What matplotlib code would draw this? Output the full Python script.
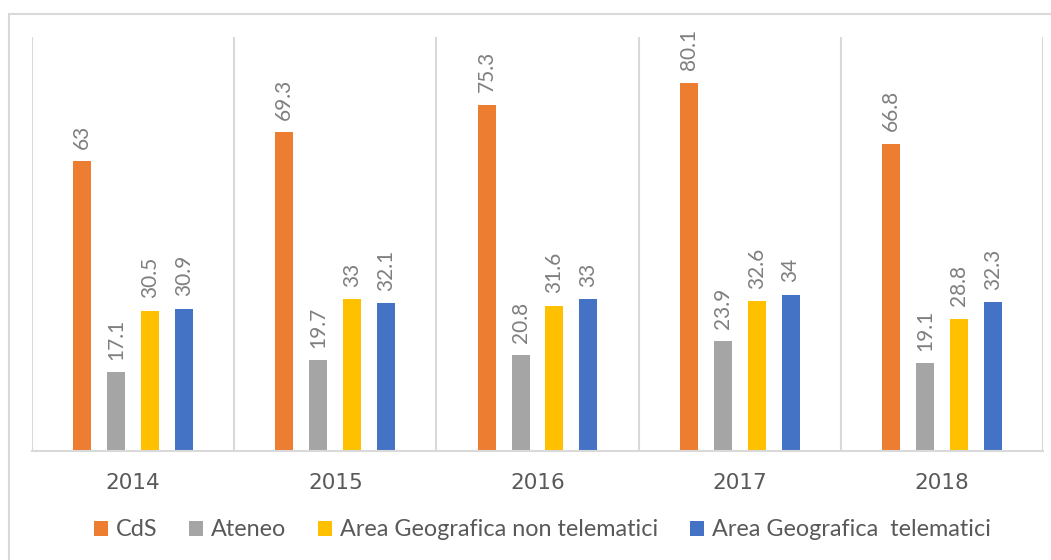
import numpy as np
import matplotlib.pyplot as plt
from matplotlib.patches import Rectangle

years = ["2014", "2015", "2016", "2017", "2018"]
series = ["CdS", "Ateneo", "Area Geografica non telematici", "Area Geografica  telematici"]
cds = [63, 69.3, 75.3, 80.1, 66.8]
ateneo = [17.1, 19.7, 20.8, 23.9, 19.1]
area_non_tel = [30.5, 33, 31.6, 32.6, 28.8]
area_tel = [30.9, 32.1, 33, 34, 32.3]
colors = ["#ED7D31", "#A5A5A5", "#FFC000", "#4472C4"]

plt.rcParams['font.family'] = ['Lato', 'DejaVu Sans']

fig = plt.figure(figsize=(10.51, 5.6), dpi=100)
W, H = 1051, 560
ax = fig.add_axes([32 / W, (H - 451) / H, (1043 - 32) / W, (451 - 37) / H])

# outer chart frame (cut by the image edge on the right and bottom)
fig.patches.append(Rectangle((8.5 / W, -0.1), 1.2, (H - 14) / H + 0.1,
                             transform=fig.transFigure, fill=False,
                             edgecolor="#d9d9d9", linewidth=1.5))

x = np.arange(len(years))
width = 0.089
step = 0.168
data = [cds, ateneo, area_non_tel, area_tel]
for i, (vals, name, c) in enumerate(zip(data, series, colors)):
    pos = x + (i - 1.5) * step
    ax.bar(pos, vals, width, color=c, label=name, zorder=2)
    for xp, v in zip(pos, vals):
        ax.annotate(f"{v:g}", (xp, v), xytext=(0, 9), textcoords="offset points",
                    rotation=90, ha="center", va="bottom", fontsize=15,
                    color="#7f7f7f")

ax.set_xlim(-0.5, len(years) - 0.5)
ax.set_ylim(0, 90)
ax.set_yticks([])
ax.set_xticks(x)
ax.set_xticklabels(years, fontsize=15.5, color="#595959", family="DejaVu Sans")
ax.tick_params(axis="x", length=0, pad=16)
for b in np.arange(-0.5, len(years), 1):
    ax.axvline(b, color="#d9d9d9", linewidth=1.5, zorder=1)
for s in ["top", "right", "left"]:
    ax.spines[s].set_visible(False)
ax.spines["bottom"].set_color("#d9d9d9")
ax.spines["bottom"].set_linewidth(1.5)

fig.legend(loc="center", bbox_to_anchor=(0.516, (H - 530) / H), ncol=4,
           frameon=False, fontsize=16.8, labelcolor="#595959",
           handlelength=0.6, handleheight=0.6, handletextpad=0.35,
           columnspacing=1.35)

fig.savefig("out.png", dpi=100)
